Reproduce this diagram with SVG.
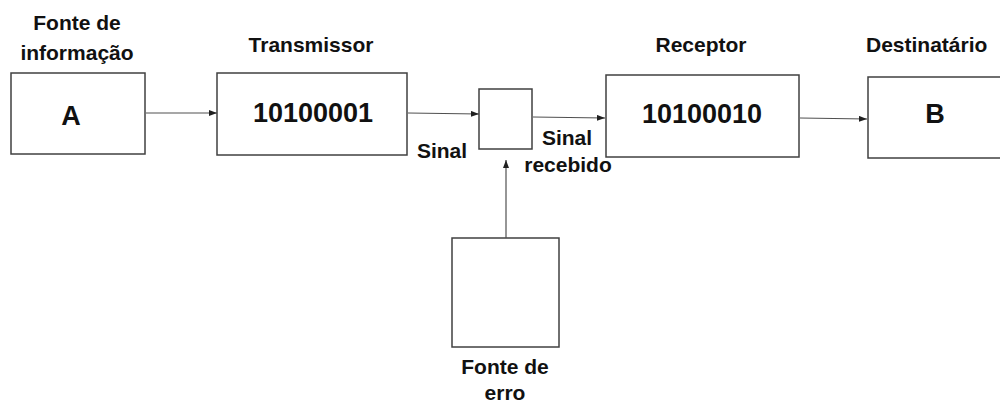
<svg xmlns="http://www.w3.org/2000/svg" width="1000" height="405" viewBox="0 0 1000 405">
<style>
.box{fill:#fff;stroke:#404040;stroke-width:1.5}
.lbl{font-family:"Liberation Sans",Arial,sans-serif;font-weight:bold;font-size:21px;fill:#111;text-anchor:middle}
.big{font-family:"Liberation Sans",Arial,sans-serif;font-weight:bold;font-size:27px;fill:#111;text-anchor:middle}
.conn{stroke:#505050;stroke-width:1.2;fill:none;marker-end:url(#ah)}
</style>
<defs>
<marker id="ah" markerWidth="8" markerHeight="6" refX="8" refY="3" orient="auto" markerUnits="userSpaceOnUse">
<path d="M0,0 L8,3 L0,6 z" fill="#202020"/>
</marker>
</defs>
<rect width="1000" height="405" fill="#fff"/>
<g id="fonte">
<rect class="box" x="11" y="73" width="134" height="81"/>
<text class="lbl" x="77" y="30">Fonte de</text>
<text class="lbl" x="77" y="60">informação</text>
<text class="big" x="71" y="125" font-size="29">A</text>
</g>
<g id="transmissor">
<rect class="box" x="217" y="73" width="190" height="82"/>
<text class="lbl" x="311" y="52">Transmissor</text>
<text class="big" x="313" y="122">10100001</text>
</g>
<g id="canal">
<rect class="box" x="479" y="89" width="53" height="60"/>
</g>
<g id="receptor">
<rect class="box" x="606" y="75" width="193" height="82"/>
<text class="lbl" x="701" y="52">Receptor</text>
<text class="big" x="702" y="123">10100010</text>
</g>
<g id="destinatario">
<rect class="box" x="868" y="77" width="140" height="81"/>
<text class="lbl" x="866" y="52" style="text-anchor:start">Destinatário</text>
<text class="big" x="935" y="123" font-size="29">B</text>
</g>
<g id="erro">
<rect class="box" x="452" y="238" width="107" height="109"/>
<text class="lbl" x="505" y="374">Fonte de</text>
<text class="lbl" x="505" y="400">erro</text>
</g>
<g id="labels">
<text class="lbl" x="442" y="158">Sinal</text>
<text class="lbl" x="567" y="145">Sinal</text>
<text class="lbl" x="568" y="172">recebido</text>
</g>
<g id="connectors">
<line class="conn" x1="146" y1="113" x2="217" y2="113"/>
<line class="conn" x1="408" y1="113" x2="479" y2="114"/>
<line class="conn" x1="533" y1="117" x2="605" y2="118"/>
<line class="conn" x1="800" y1="118" x2="867" y2="119"/>
<line class="conn" x1="506" y1="238" x2="506" y2="160"/>
</g>
</svg>
